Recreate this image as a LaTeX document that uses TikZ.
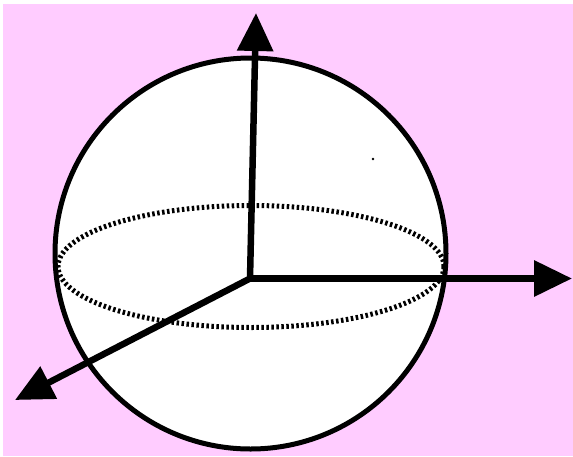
\documentclass[tikz,border=0pt]{standalone}
\usepackage{xcolor}
\usetikzlibrary{arrows.meta}
\definecolor{bgpink}{RGB}{255,204,255}

\begin{document}
\begin{tikzpicture}[x=1pt,y=-1pt,
  axis/.style={line width=6.5pt,-{Triangle[length=38pt,width=35pt]}},
  equator/.style={line width=5pt,dash pattern=on 2.5pt off 2.5pt}]
  \useasboundingbox (0,0) rectangle (573,456);
  \fill[white] (0,0) rectangle (573,456);
  \fill[bgpink] (3,4) rectangle (573,456);
  % sphere and equator
  \coordinate (C) at (250.5,253.5);
  \coordinate (E) at (251,266.5);
  \draw[line width=5pt,fill=white] (C) circle (195.5pt);
  \draw[equator] (E) ellipse [x radius=193pt,y radius=61pt];
  \fill[black] (373,159) circle (1.3pt);
  % axes
  \coordinate (O) at (250,278.5);
  \coordinate (zTip) at (256,13);
  \coordinate (xTip) at (572,278.5);
  \coordinate (yTip) at (15,400);
  \draw[axis] (O) -- (zTip);
  \draw[axis] (O) -- (xTip);
  \draw[axis] (O) -- (yTip);
\end{tikzpicture}
\end{document}
